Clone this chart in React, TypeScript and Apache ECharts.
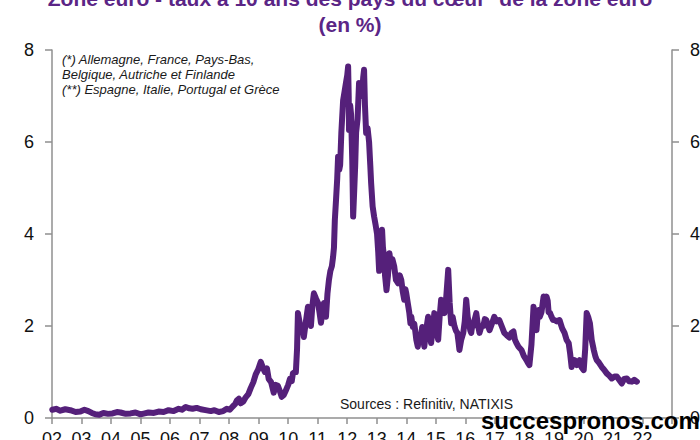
import React, { useEffect, useRef } from "react";
import * as echarts from "echarts";

// decimal years (time position of each reading)
const years = [
  2002.01, 2002.14, 2002.28, 2002.45, 2002.62, 2002.8, 2002.96, 2003.1, 2003.23, 2003.35, 2003.47, 2003.6, 2003.74, 2003.9, 2004.05, 2004.2, 2004.32, 2004.5, 2004.66, 2004.83,
  2005.0, 2005.14, 2005.27, 2005.45, 2005.61, 2005.78, 2005.95, 2006.12, 2006.29, 2006.4, 2006.53, 2006.65, 2006.76, 2006.9, 2007.04, 2007.2, 2007.38, 2007.5, 2007.65, 2007.8,
  2007.92, 2008.02, 2008.12, 2008.2, 2008.26, 2008.33, 2008.39, 2008.48, 2008.56, 2008.65, 2008.73, 2008.82, 2008.9, 2008.98, 2009.07, 2009.14, 2009.21, 2009.28, 2009.34, 2009.42,
  2009.51, 2009.58, 2009.65, 2009.72, 2009.78, 2009.85, 2009.92, 2010.0, 2010.06, 2010.12, 2010.16, 2010.22, 2010.26, 2010.3, 2010.33, 2010.38, 2010.43, 2010.48, 2010.53, 2010.6,
  2010.67, 2010.72, 2010.77, 2010.82, 2010.87, 2010.94, 2011.01, 2011.06, 2011.11, 2011.16, 2011.21, 2011.25, 2011.28, 2011.33, 2011.38, 2011.43, 2011.48, 2011.52, 2011.55, 2011.58,
  2011.62, 2011.66, 2011.69, 2011.73, 2011.76, 2011.8, 2011.86, 2011.91, 2011.96, 2012.0, 2012.03, 2012.05, 2012.06, 2012.1, 2012.13, 2012.17, 2012.2, 2012.24, 2012.27, 2012.3,
  2012.35, 2012.4, 2012.45, 2012.5, 2012.54, 2012.57, 2012.6, 2012.64, 2012.69, 2012.74, 2012.78, 2012.81, 2012.86, 2012.91, 2012.96, 2013.01, 2013.05, 2013.08, 2013.11, 2013.14,
  2013.18, 2013.21, 2013.25, 2013.28, 2013.33, 2013.38, 2013.43, 2013.48, 2013.53, 2013.59, 2013.65, 2013.72, 2013.78, 2013.83, 2013.88, 2013.93, 2013.97, 2014.0, 2014.05, 2014.1,
  2014.14, 2014.17, 2014.22, 2014.27, 2014.3, 2014.34, 2014.39, 2014.44, 2014.49, 2014.54, 2014.58, 2014.61, 2014.67, 2014.74, 2014.79, 2014.84, 2014.9, 2014.95, 2015.02, 2015.08,
  2015.13, 2015.18, 2015.24, 2015.29, 2015.35, 2015.42, 2015.47, 2015.52, 2015.57, 2015.63, 2015.68, 2015.73, 2015.77, 2015.8, 2015.86, 2015.93, 2015.98, 2016.03, 2016.08, 2016.14,
  2016.17, 2016.2, 2016.24, 2016.27, 2016.32, 2016.37, 2016.42, 2016.48, 2016.55, 2016.61, 2016.66, 2016.71, 2016.77, 2016.82, 2016.9, 2016.98, 2017.06, 2017.15, 2017.23, 2017.32,
  2017.4, 2017.49, 2017.56, 2017.63, 2017.68, 2017.73, 2017.8, 2017.9, 2017.98, 2018.07, 2018.12, 2018.17, 2018.24, 2018.31, 2018.36, 2018.41, 2018.44, 2018.48, 2018.52, 2018.58,
  2018.65, 2018.7, 2018.75, 2018.79, 2018.82, 2018.87, 2018.92, 2018.97, 2019.02, 2019.1, 2019.19, 2019.28, 2019.36, 2019.43, 2019.5, 2019.55, 2019.6, 2019.65, 2019.7, 2019.78,
  2019.87, 2019.94, 2020.01, 2020.06, 2020.11, 2020.16, 2020.22, 2020.28, 2020.35, 2020.4, 2020.45, 2020.53, 2020.62, 2020.7, 2020.79, 2020.88, 2020.96, 2021.05, 2021.13, 2021.22,
  2021.3, 2021.38, 2021.47, 2021.55, 2021.64, 2021.72, 2021.81,
];

// 10-year rate, %
const rates = [
  0.18, 0.2, 0.16, 0.19, 0.17, 0.13, 0.14, 0.18, 0.15, 0.11, 0.08, 0.07, 0.11, 0.09, 0.1, 0.13, 0.12, 0.09, 0.1, 0.12,
  0.08, 0.1, 0.12, 0.11, 0.14, 0.13, 0.17, 0.15, 0.2, 0.18, 0.24, 0.21, 0.2, 0.22, 0.19, 0.17, 0.15, 0.17, 0.13, 0.15,
  0.2, 0.18, 0.25, 0.3, 0.38, 0.42, 0.32, 0.36, 0.45, 0.52, 0.65, 0.78, 0.95, 1.05, 1.22, 1.1, 1.0, 1.08, 0.85, 0.78,
  0.55, 0.72, 0.7, 0.58, 0.46, 0.5, 0.6, 0.72, 0.85, 0.8, 0.97, 1.0, 1.0, 1.5, 2.28, 2.1, 1.9, 1.95, 1.76, 2.1,
  2.42, 2.2, 2.0, 2.45, 2.71, 2.6, 2.5, 2.3, 2.07, 2.3, 2.5, 2.35, 2.2, 2.7, 3.0, 3.2, 3.3, 3.5, 3.7, 4.3,
  4.74, 5.2, 5.68, 5.4, 5.5, 6.2, 6.9, 7.1, 7.3, 7.45, 7.64, 7.0, 6.26, 6.8, 6.6, 5.6, 4.38, 5.0, 5.5, 6.2,
  6.5, 7.28, 7.1, 7.0, 7.4, 7.57, 6.8, 6.2, 6.3, 6.0, 5.5, 5.1, 4.6, 4.38, 4.2, 4.0, 3.6, 3.2, 3.6, 3.8,
  4.09, 3.7, 3.5, 3.1, 2.78, 3.1, 3.58, 3.3, 3.45, 3.3, 3.0, 2.93, 3.1, 3.0, 2.75, 2.57, 2.8, 2.71, 2.5, 2.3,
  2.06, 2.2, 1.98, 2.05, 1.91, 1.7, 1.55, 1.8, 1.75, 1.98, 1.7, 1.55, 1.9, 2.2, 1.85, 1.63, 1.95, 2.28, 1.9, 1.7,
  2.2, 2.57, 2.35, 2.28, 2.6, 3.22, 2.5, 2.06, 2.2, 2.0, 1.9, 1.85, 1.65, 1.48, 1.7, 1.85, 2.1, 2.57, 2.2, 2.0,
  1.9, 1.85, 2.05, 2.0, 2.15, 2.28, 2.05, 1.85, 2.0, 2.0, 2.15, 2.13, 2.0, 1.91, 2.05, 2.2, 2.1, 2.13, 2.0, 1.85,
  1.8, 1.75, 1.85, 1.88, 1.7, 1.63, 1.55, 1.48, 1.35, 1.26, 1.2, 1.15, 1.6, 2.42, 2.1, 1.91, 2.15, 2.35, 2.2, 2.3,
  2.64, 2.5, 2.64, 2.55, 2.3, 2.28, 2.2, 2.13, 2.13, 2.1, 2.13, 1.95, 1.85, 1.7, 1.63, 1.4, 1.11, 1.2, 1.26, 1.15,
  1.26, 1.1, 1.04, 1.5, 2.28, 2.2, 2.06, 1.7, 1.48, 1.35, 1.26, 1.2, 1.11, 1.05, 0.97, 0.92, 0.86, 0.9, 0.9, 0.82,
  0.75, 0.85, 0.86, 0.8, 0.79, 0.83, 0.79,
];

const titleLines = [
  "Zone euro - taux à 10 ans des pays du cœur* de la zone euro",
  "(en %)",
];
const noteLines = [
  "(*) Allemagne, France, Pays-Bas,",
  "Belgique, Autriche et Finlande",
  "(**) Espagne, Italie, Portugal et Grèce",
];
const sourceText = "Sources : Refinitiv, NATIXIS";
const watermark = "succespronos.com";

const FONT = "'Liberation Sans', Arial, sans-serif";
const AXIS_GRAY = "#8f8f8f";

export default function App() {
  const ref = useRef<HTMLDivElement>(null);
  useEffect(() => {
    if (!ref.current) return;
    const chart = echarts.init(ref.current, undefined, { renderer: "svg" });
    const yAxisCommon = {
      type: "value" as const,
      min: 0,
      max: 8,
      interval: 2,
      splitLine: { show: false },
      axisLine: { show: true, lineStyle: { color: AXIS_GRAY, width: 1.5 } },
      axisTick: { show: true, length: 7, lineStyle: { color: AXIS_GRAY, width: 1.5 } },
      axisLabel: { color: "#111", fontSize: 18, fontFamily: FONT, margin: 18 },
    };
    chart.setOption({
      animation: false,
      grid: {
        left: 52,
        right: 28,
        top: 50,
        bottom: 22,
        containLabel: false,
        outerBoundsMode: "none",
      },
      xAxis: {
        type: "value",
        min: 2002,
        max: 2023,
        interval: 1,
        splitLine: { show: false },
        axisLine: { show: true, onZero: false, lineStyle: { color: AXIS_GRAY, width: 1.5 } },
        axisTick: { show: true, length: 6, lineStyle: { color: AXIS_GRAY, width: 1.5 } },
        axisLabel: {
          color: "#111",
          fontSize: 18,
          fontFamily: FONT,
          margin: 12,
          formatter: (v: number) => (v >= 2023 ? "" : String(v % 100).padStart(2, "0")),
        },
      },
      yAxis: [
        { ...yAxisCommon, position: "left" },
        { ...yAxisCommon, position: "right" },
      ],
      series: [
        {
          type: "line",
          data: years.map((y, i) => [y, rates[i]]),
          showSymbol: false,
          lineStyle: { color: "#55207a", width: 6, cap: "round", join: "round" },
          z: 2,
        },
      ],
      graphic: [
        {
          type: "text",
          x: 350,
          y: -2,
          style: {
            text: titleLines[0],
            align: "center",
            verticalAlign: "middle",
            font: `bold 21px ${FONT}`,
            fill: "#5b2586",
          },
        },
        {
          type: "text",
          x: 350,
          y: 24,
          style: {
            text: titleLines[1],
            align: "center",
            verticalAlign: "middle",
            font: `bold 21px ${FONT}`,
            fill: "#5b2586",
          },
        },
        ...noteLines.map((t, i) => ({
          type: "text",
          x: 62,
          y: 59 + i * 15,
          style: {
            text: t,
            align: "left",
            verticalAlign: "middle",
            font: `italic 13px ${FONT}`,
            fill: "#1a1a1a",
          },
        })),
        {
          type: "text",
          x: 340,
          y: 404,
          style: {
            text: sourceText,
            align: "left",
            verticalAlign: "middle",
            font: `14px ${FONT}`,
            fill: "#1a1a1a",
          },
        },
        {
          type: "text",
          x: 481,
          y: 420,
          z: 100,
          style: {
            text: watermark,
            align: "left",
            verticalAlign: "middle",
            font: `bold 24px ${FONT}`,
            fill: "#000",
          },
        },
      ],
    });
    return () => chart.dispose();
  }, []);
  return (
    <div
      ref={ref}
      style={{ position: "absolute", left: 0, top: 0, width: 700, height: 440, background: "#fff" }}
    />
  );
}
